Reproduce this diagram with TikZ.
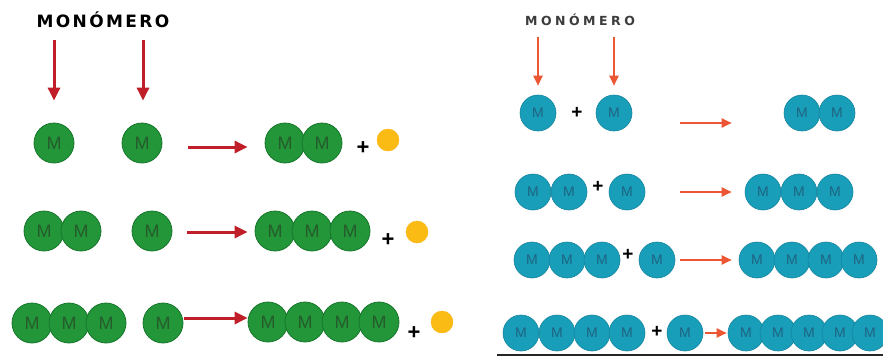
\documentclass[tikz,border=0pt]{standalone}
\usepackage{fontspec}
\setmainfont{Liberation Sans}
\newfontfamily\titleL[LetterSpace=14]{DejaVu Sans}
\newfontfamily\titleR[LetterSpace=28]{DejaVu Sans}
\usetikzlibrary{arrows.meta}
\definecolor{gfill}{RGB}{34,150,56}
\definecolor{gedge}{RGB}{24,118,44}
\definecolor{gtext}{RGB}{38,92,44}
\definecolor{tfill}{RGB}{25,158,185}
\definecolor{tedge}{RGB}{20,132,158}
\definecolor{ttext}{RGB}{30,100,130}
\definecolor{arrL}{RGB}{192,30,40}
\definecolor{arrR}{RGB}{236,86,50}
\definecolor{yel}{RGB}{250,188,20}
\definecolor{titR}{RGB}{60,60,60}
\tikzset{
 gball/.style={circle, fill=gfill, draw=gedge, line width=0.8pt, minimum size=40pt, inner sep=0pt, text=gtext, font=\fontsize{18}{18}\selectfont},
 tball/.style={circle, fill=tfill, draw=tedge, line width=0.6pt, minimum size=36pt, inner sep=0pt, text=ttext, font=\fontsize{14}{14}\selectfont},
 ydot/.style={circle, fill=yel, draw=yel!85!orange, minimum size=22pt, inner sep=0pt},
 plusL/.style={font=\fontsize{22}{22}\selectfont\bfseries, inner sep=0pt},
 plusR/.style={font=\fontsize{19}{19}\selectfont\bfseries, inner sep=0pt},
 larr/.style={draw=arrL, line width=3pt, -{Triangle[length=13pt,width=12pt]}},
 rarr/.style={draw=arrR, line width=2pt, -{Triangle[length=10pt,width=9pt]}},
}
\begin{document}
\begin{tikzpicture}[x=1pt,y=-1pt]
\useasboundingbox[fill=white] (0,0) rectangle (883,357);
% ---------- left panel ----------
\node[font=\titleL\bfseries\fontsize{17}{17}\selectfont, inner sep=0pt] (lblL) at (103,20) {MONÓMERO};
\coordinate (la1) at (54,40);
\coordinate (la2) at (143,40);
% row 1
\node[gball] (a1) at (54,143) {M};
\node[gball] (a2) at (142,143) {M};
\node[gball] (p1) at (285,143) {M};
\node[gball] (p2) at (322,143) {M};
\node[plusL] (pl1) at (363,148) {+};
\node[ydot] (y1) at (388,140) {};
% row 2
\node[gball] (b1) at (44,231) {M};
\node[gball] (b2) at (81,231) {M};
\node[gball] (b3) at (152,231) {M};
\node[gball] (q1) at (275,231) {M};
\node[gball] (q2) at (312,231) {M};
\node[gball] (q3) at (350,231) {M};
\node[plusL] (pl2) at (388,240) {+};
\node[ydot] (y2) at (417,232) {};
% row 3
\node[gball] (c1) at (32,323) {M};
\node[gball] (c2) at (69,323) {M};
\node[gball] (c3) at (106,323) {M};
\node[gball] (c4) at (163,323) {M};
\node[gball] (r1) at (268,322) {M};
\node[gball] (r2) at (305,322) {M};
\node[gball] (r3) at (342,322) {M};
\node[gball] (r4) at (379,322) {M};
\node[plusL] (pl3) at (414,333) {+};
\node[ydot] (y3) at (442,322) {};
% arrows
\draw[larr, shorten >=22pt] (la1) -- (la1 |- a1.north);
\draw[larr, shorten >=22pt] (la2) -- (la2 |- a2.north);
\draw[larr, shorten <=26pt, shorten >=17pt] ([yshift=-4pt]a2.east) -- ([yshift=-4pt]p1.west);
\draw[larr, shorten <=15pt, shorten >=7pt] ([yshift=-1pt]b3.east) -- ([yshift=-1pt]q1.west);
\draw[larr, shorten <=1pt, shorten >=0pt] ([yshift=5pt]c4.east) -- ([yshift=5pt]c4.east -| r1.west);
% ---------- right panel ----------
\node[font=\titleR\bfseries\fontsize{12.5}{12.5}\selectfont, text=titR, inner sep=0pt] (lblR) at (580,20) {MONÓMERO};
\coordinate (ra1) at (538,37);
\coordinate (ra2) at (614,37);
% row 1
\node[tball] (e1) at (538,113) {M};
\node[plusR] (pr1) at (577,113) {+};
\node[tball] (e2) at (614,113) {M};
\node[tball] (s1) at (802,113) {M};
\node[tball] (s2) at (837,113) {M};
% row 2
\node[tball] (f1) at (533,192) {M};
\node[tball] (f2) at (569,192) {M};
\node[plusR] (pr2) at (598,187) {+};
\node[tball] (f3) at (627,192) {M};
\node[tball] (u1) at (763,192) {M};
\node[tball] (u2) at (799,192) {M};
\node[tball] (u3) at (835,192) {M};
% row 3
\node[tball] (g1) at (532,260) {M};
\node[tball] (g2) at (567,260) {M};
\node[tball] (g3) at (602,260) {M};
\node[plusR] (pr3) at (628,255) {+};
\node[tball] (g4) at (657,260) {M};
\node[tball] (v1) at (757,260) {M};
\node[tball] (v2) at (792,260) {M};
\node[tball] (v3) at (826,260) {M};
\node[tball] (v4) at (859,260) {M};
% row 4
\node[tball] (h1) at (521,333) {M};
\node[tball] (h2) at (557,333) {M};
\node[tball] (h3) at (592,333) {M};
\node[tball] (h4) at (627,333) {M};
\node[plusR] (pr4) at (657,332) {+};
\node[tball] (h5) at (685,333) {M};
\node[tball] (w1) at (746,333) {M};
\node[tball] (w2) at (778,333) {M};
\node[tball] (w3) at (809,333) {M};
\node[tball] (w4) at (840,333) {M};
\node[tball] (w5) at (870,333) {M};
% arrows
\draw[rarr, shorten >=9pt] (ra1) -- (ra1 |- e1.north);
\draw[rarr, shorten >=9pt] (ra2) -- (ra2 |- e2.north);
\draw[rarr, shorten <=48pt, shorten >=52pt] ([yshift=-10pt]e2.east) -- ([yshift=-10pt]s1.west);
\draw[rarr, shorten <=35pt, shorten >=13pt] (f3.east) -- (u1.west);
\draw[rarr, shorten <=5pt, shorten >=7pt] (g4.east) -- (v1.west);
\draw[rarr, shorten <=2pt, shorten >=1pt] (h5.east) -- (w1.west);
% base line
\coordinate (bl1) at (497,355);
\coordinate (bl2) at (883,355);
\draw[line width=2pt, black!85] (bl1) -- (bl2);
\end{tikzpicture}
\end{document}
